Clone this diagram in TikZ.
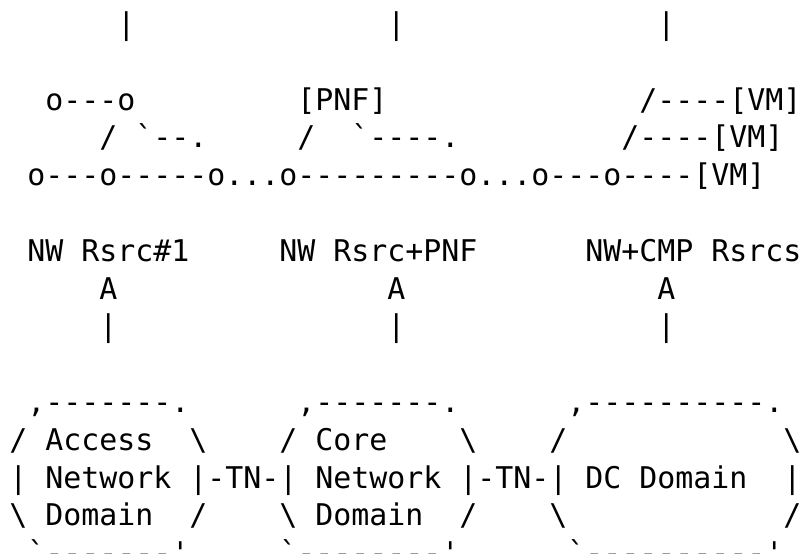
\documentclass[tikz,border=0pt]{standalone}
\usepackage{fontspec}
\setmonofont{DejaVu Sans Mono}
\usepackage{tikz}

\tikzset{
	art/.style={inner sep=0pt, outer sep=0pt, anchor=base west, font=\ttfamily\fontsize{10}{12}\selectfont},
}

\begin{document}
\begin{tikzpicture}[x=6.0205pt, y=-12.64pt]
	\useasboundingbox (-0.516, -0.915) rectangle (44.14, 13.74);

	\node[art] (bar1) at (6, 0) {|};
	\node[art] (bar2) at (21, 0) {|};
	\node[art] (bar3) at (36, 0) {|};

	\node[art] (nwa) at (2, 2) {o---o};
	\node[art] (pnf) at (16, 2) {[PNF]};
	\node[art] (vma) at (35, 2) {/----[VM]};

	\node[art] (nwb) at (5, 3) {/ `--.};
	\node[art] (pnfl) at (16, 3) {/};
	\node[art] (pnfr) at (19, 3) {`----.};
	\node[art] (vmb) at (34, 3) {/----[VM]};

	\node[art] (chain) at (1, 4) {o---o-----o...o---------o...o---o----[VM]};

	\node[art] (rsrc1) at (1, 6) {NW Rsrc\#1};
	\node[art] (rsrc2) at (15, 6) {NW Rsrc+PNF};
	\node[art] (rsrc3) at (32, 6) {NW+CMP Rsrcs};

	\node[art] (up1) at (5, 7) {A};
	\node[art] (up2) at (21, 7) {A};
	\node[art] (up3) at (36, 7) {A};
	\node[art] (stem1) at (5, 8) {|};
	\node[art] (stem2) at (21, 8) {|};
	\node[art] (stem3) at (36, 8) {|};

	\node[art] (accT) at (1, 10) {,-------.};
	\node[art] (coreT) at (16, 10) {,-------.};
	\node[art] (dcT) at (31, 10) {,----------.};

	\node[art] (accA) at (0, 11) {/ Access};
	\node[art] (accAr) at (10, 11) {\textbackslash};
	\node[art] (coreA) at (15, 11) {/ Core};
	\node[art] (coreAr) at (25, 11) {\textbackslash};
	\node[art] (dcA) at (30, 11) {/};
	\node[art] (dcAr) at (43, 11) {\textbackslash};

	\node[art] (mid) at (0, 12) {| Network |-TN-| Network |-TN-| DC Domain};
	\node[art] (dcMr) at (43, 12) {|};

	\node[art] (accB) at (0, 13) {\textbackslash{} Domain};
	\node[art] (accBr) at (10, 13) {/};
	\node[art] (coreB) at (15, 13) {\textbackslash{} Domain};
	\node[art] (coreBr) at (25, 13) {/};
	\node[art] (dcB) at (30, 13) {\textbackslash};
	\node[art] (dcBr) at (43, 13) {/};

	\node[art] (accE) at (1, 14) {`-------'};
	\node[art] (coreE) at (15, 14) {`--------'};
	\node[art] (dcE) at (31, 14) {`----------'};

\end{tikzpicture}
\end{document}
